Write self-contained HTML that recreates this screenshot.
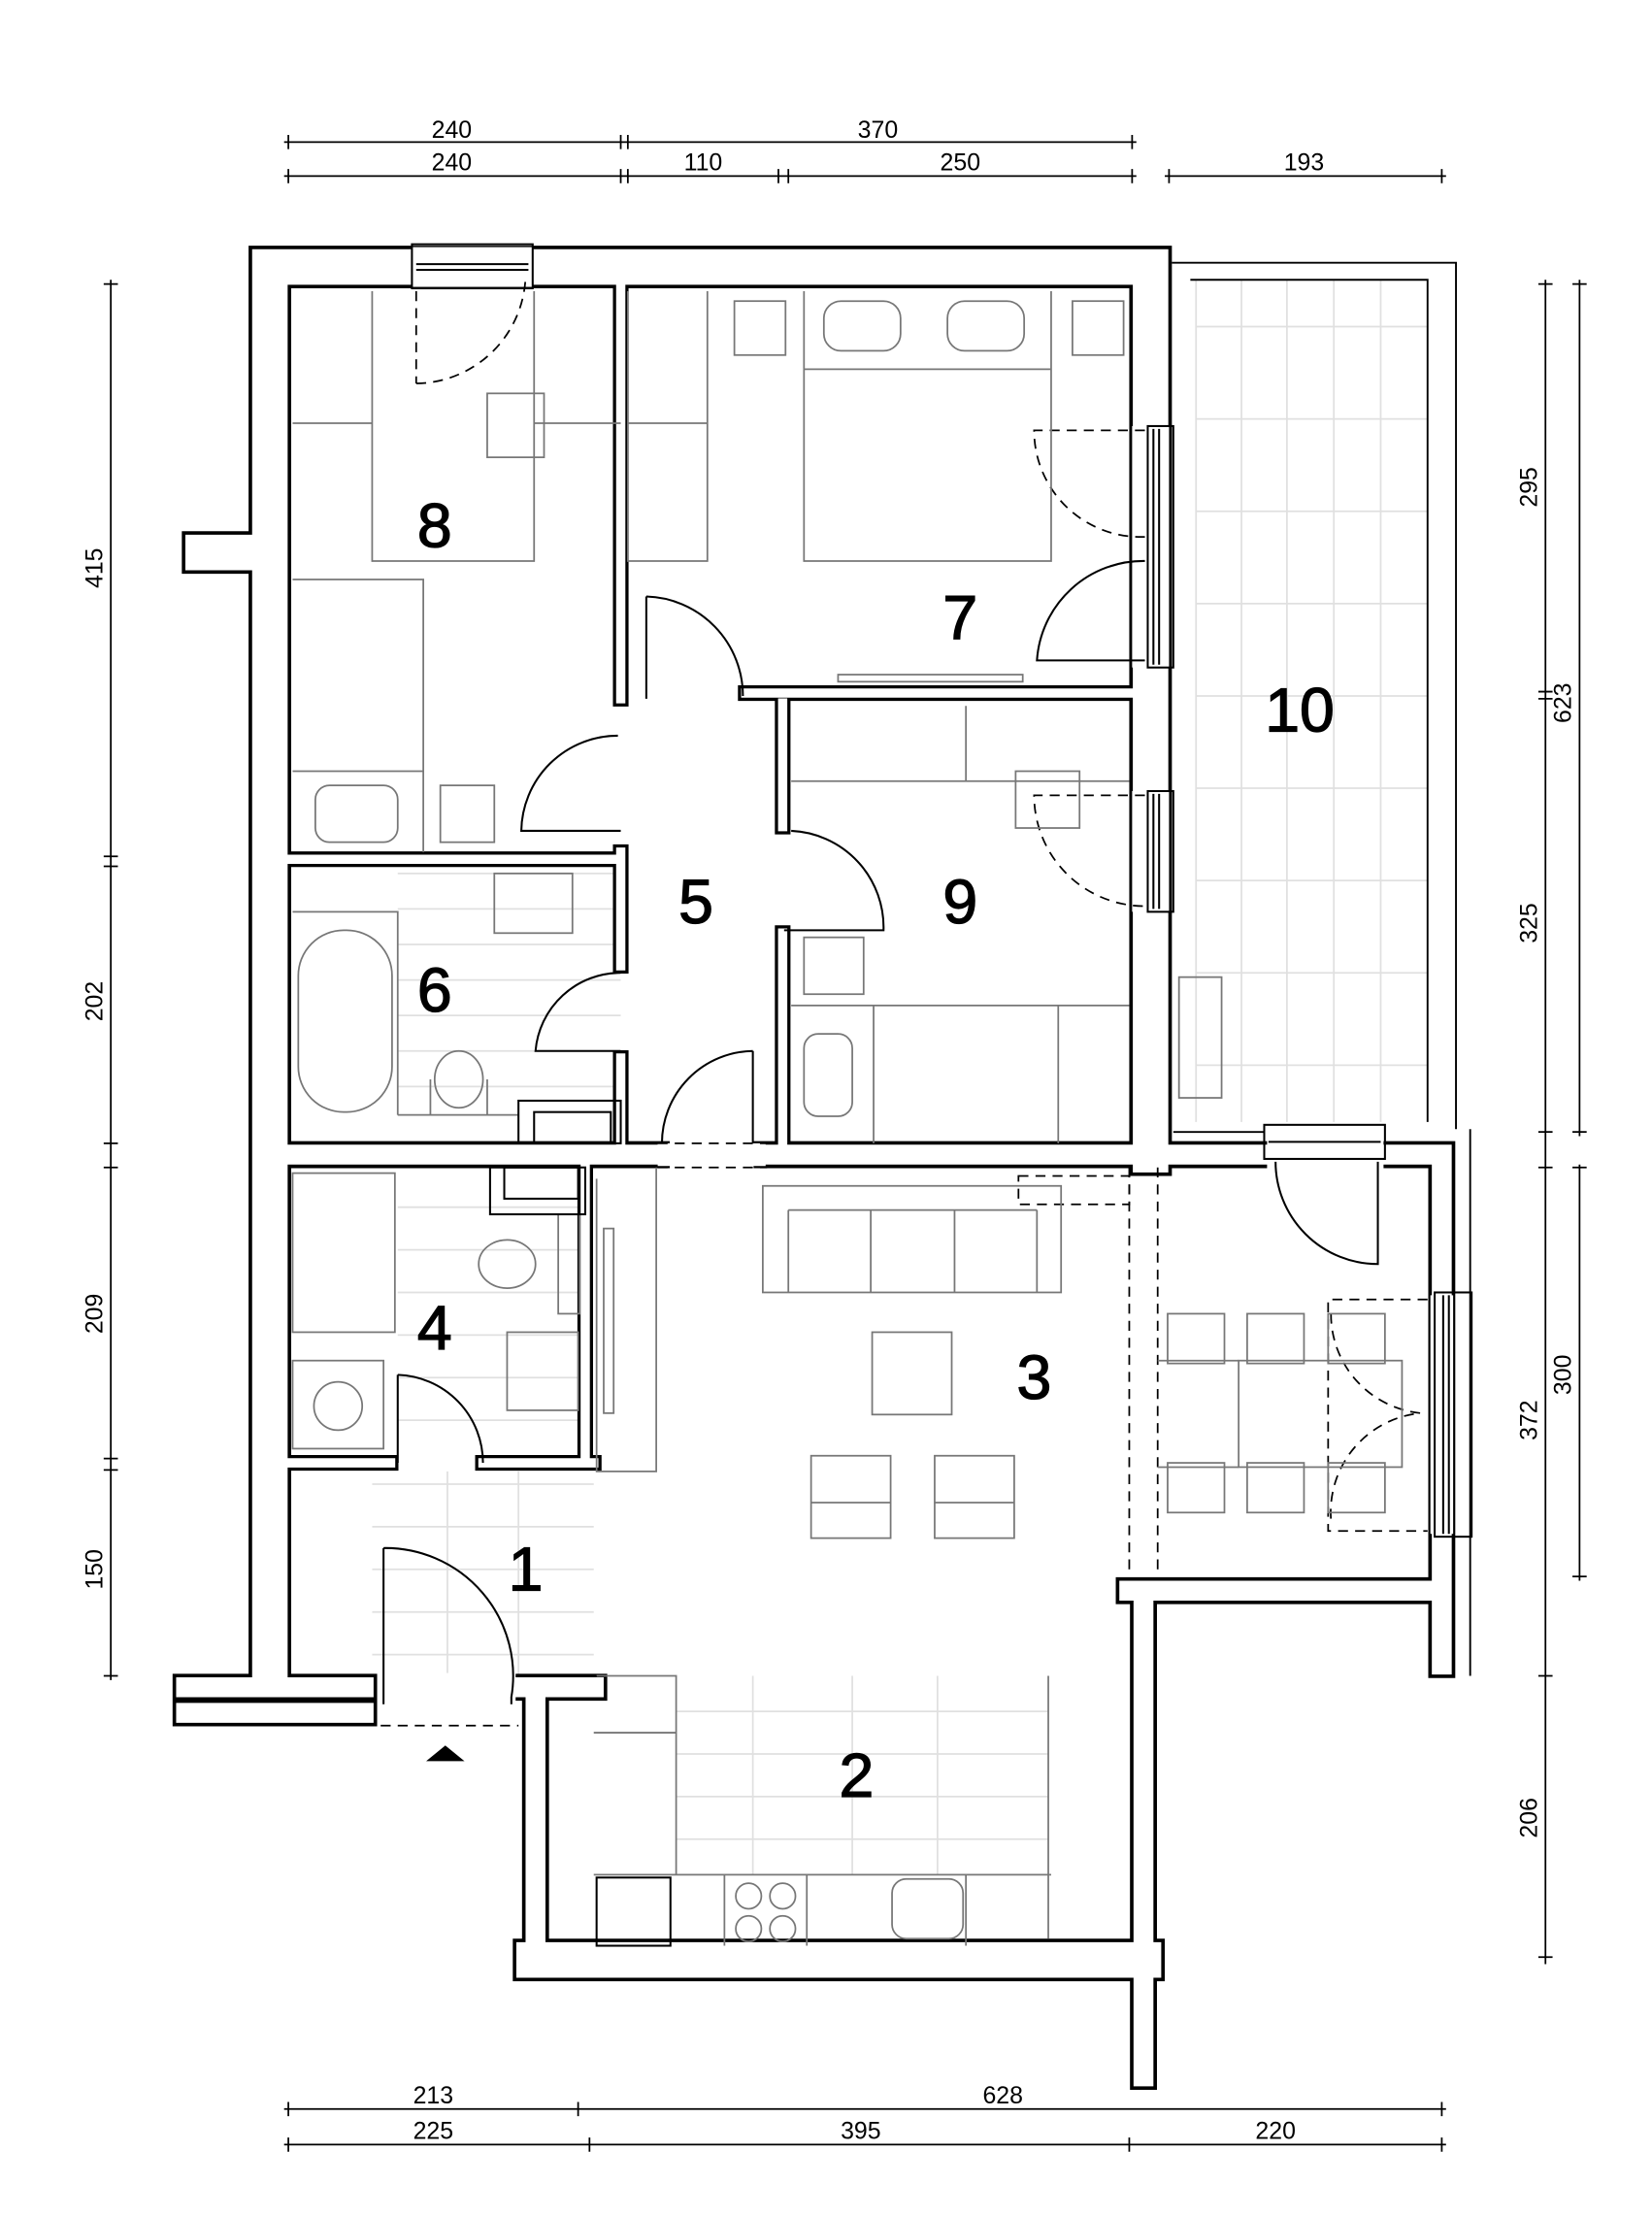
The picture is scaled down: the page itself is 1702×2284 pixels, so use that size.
<!DOCTYPE html>
<html><head><meta charset="utf-8"><style>
html,body{margin:0;padding:0;background:#fff}
svg{display:block}
text{font-family:"Liberation Sans",sans-serif}
</style></head><body>
<svg width="1702" height="2284" viewBox="0 0 1163 1561" preserveAspectRatio="none" xmlns="http://www.w3.org/2000/svg">
<defs>
<path id="T" d="M190,1180 V188 H810 V813 M143,389 H190 M376,1380 H805"/>
<path id="M" d="M190,813 H462 M540,813 H890 M975,813 H1015 V1172 M795,1120 H1015 M805,1120 V1462 M377,1188 V1380 M365,1188 H418 M131,1188 H256 M131,1206 H256"/>
<path id="S" d="M437,203 V492 M437,600 V680 M437,745 V805 M203,605 H437 M525,488 H795 M551,495 V582 M551,657 V805 M412,822 V1030 M203,1030 H275 M340,1030 H418"/>
</defs>
<g stroke="#e0e0e0" stroke-width="1.2" fill="none">
<path d="M842,197 V790 M874,197 V790 M906,197 V790 M939,197 V790 M972,197 V790 M842,230 H1005 M842,295 H1005 M842,360 H1005 M842,425 H1005 M842,490 H1005 M842,555 H1005 M842,620 H1005 M842,685 H1005 M842,750 H1005"/>
<path d="M280,615 H437 M280,640 H437 M280,665 H437 M280,690 H437 M280,715 H437 M280,740 H437 M280,765 H437"/>
<path d="M280,850 H412 M280,880 H412 M280,910 H412 M280,940 H412 M280,970 H412 M280,1000 H412"/>
<path d="M262,1045 H418 M262,1075 H418 M262,1105 H418 M262,1135 H418 M262,1165 H418 M315,1036 V1180 M365,1036 V1180"/>
<path d="M476,1205 H738 M476,1235 H738 M476,1265 H738 M476,1295 H738 M530,1180 V1320 M600,1180 V1320 M660,1180 V1320"/>
</g>
<g stroke="#000" stroke-width="1.3" fill="none">
<path d="M825,185 H1025 V795 M1035,795 V1180 M838,197 H1005 V790 M826,797 H890"/>
</g>
<g fill="none" stroke-linecap="square" stroke-linejoin="miter">
<use href="#T" stroke="#000" stroke-width="30"/>
<use href="#M" stroke="#000" stroke-width="19"/>
<use href="#S" stroke="#000" stroke-width="11"/>
<use href="#T" stroke="#fff" stroke-width="25"/>
<use href="#M" stroke="#fff" stroke-width="14"/>
<use href="#S" stroke="#fff" stroke-width="6.5"/>
</g>
<g fill="#fff" stroke="none">
<rect x="290" y="174" width="85" height="28"/>
<rect x="797" y="300" width="26" height="170"/>
<rect x="797" y="557" width="26" height="85"/>
<rect x="892" y="803" width="82" height="20"/>
<rect x="1007" y="912" width="16" height="168"/>
<rect x="463" y="805" width="76" height="16"/>
<rect x="267" y="1178" width="96" height="40"/>
</g>
<g stroke="#000" stroke-width="1.4" fill="none">
<rect x="290" y="172" width="85" height="31"/><path d="M293,186 H372 M293,190 H372"/>
<rect x="808" y="300" width="18" height="170"/><path d="M812,302 V468 M816,302 V468"/>
<rect x="808" y="557" width="18" height="85"/><path d="M812,559 V640 M816,559 V640"/>
<rect x="890" y="792" width="85" height="24"/><path d="M893,804 H972"/>
<rect x="1010" y="910" width="26" height="172"/><path d="M1016,912 V1080 M1020,912 V1080"/>
<path d="M455,420 V492 M455,420 A70,70 0 0 1 523,490"/>
<path d="M435,518 A68,68 0 0 0 367,585 H437"/>
<path d="M557,585 A68,68 0 0 1 622,655 H552"/>
<path d="M437,685 A60,60 0 0 0 377,740 H437"/>
<path d="M530,740 V805 M530,740 A65,65 0 0 0 466,805"/>
<path d="M280,968 V1030 M280,968 A62,62 0 0 1 340,1030"/>
<path d="M270,1090 V1200 M270,1090 A90,90 0 0 1 360,1195 V1200"/>
<path d="M898,818 A72,72 0 0 0 970,890 V818"/>
<path d="M806,395 A75,75 0 0 0 730,465 H806"/>
</g>
<g stroke="#000" stroke-width="1.2" fill="none" stroke-dasharray="7,5">
<path d="M293,205 V270 M293,270 A78,78 0 0 0 370,195"/>
<path d="M806,303 H728 A75,75 0 0 0 806,378"/>
<path d="M806,560 H728 A78,78 0 0 0 806,638"/>
<path d="M1005,915 H935 V1078 H1005 M937,925 A70,70 0 0 0 1000,995 A70,70 0 0 0 937,1070"/>
<path d="M463,805 H540 M463,822 H540 M268,1215 H365 M815,822 V1110 M795,822 V1110"/>
<rect x="717" y="828" width="78" height="20"/>
</g>
<polygon points="300,1240 327,1240 313.5,1229" fill="#000"/>
<g stroke="#777" stroke-width="1.2" fill="none">
<path d="M262,205 V395 H376 V205 M206,298 H262 M376,298 H437" />
<rect x="343" y="277" width="40" height="45"/>
<path d="M206,408 H298 V600 M206,543 H298"/>
<rect x="222" y="553" width="58" height="40" rx="10"/>
<rect x="310" y="553" width="38" height="40"/>
<path d="M442,205 V395 H498 V205 M442,298 H498"/>
<rect x="517" y="212" width="36" height="38"/><rect x="755" y="212" width="36" height="38"/>
<rect x="580" y="212" width="54" height="35" rx="12"/><rect x="667" y="212" width="54" height="35" rx="12"/>
<path d="M566,205 V395 H740 V205 M566,260 H740"/>
<rect x="590" y="475" width="130" height="5"/>
<path d="M557,550 H795 M680,497 V550"/>
<rect x="715" y="543" width="45" height="40"/>
<rect x="566" y="660" width="42" height="40"/>
<path d="M557,708 H795 M615,708 V805 M745,708 V805"/>
<rect x="566" y="728" width="34" height="58" rx="10"/>
<path d="M206,642 H280 V785 M280,785 H365"/>
<rect x="210" y="655" width="66" height="128" rx="32"/>
<rect x="348" y="615" width="55" height="42"/>
<ellipse cx="323" cy="760" rx="17" ry="20"/>
<path d="M303,760 V785 M343,760 V785"/>
<rect x="206" y="826" width="72" height="112"/>
<ellipse cx="357" cy="890" rx="20" ry="17"/><rect x="393" y="855" width="15" height="70"/>
<rect x="357" y="938" width="50" height="55"/>
<rect x="206" y="958" width="64" height="62"/>
<circle cx="238" cy="990" r="17"/>
<path d="M420,830 V1036 H462 V822"/><rect x="425" y="865" width="7" height="130"/>
<rect x="537" y="835" width="210" height="75"/>
<path d="M555,852 V910 M613,852 V910 M672,852 V910 M730,852 V910 M555,852 H730"/>
<rect x="614" y="938" width="56" height="58"/>
<rect x="571" y="1025" width="56" height="58"/><rect x="658" y="1025" width="56" height="58"/>
<path d="M571,1058 H627 M658,1058 H714"/>
<rect x="822" y="925" width="40" height="35"/><rect x="878" y="925" width="40" height="35"/><rect x="935" y="925" width="40" height="35"/>
<rect x="822" y="1030" width="40" height="35"/><rect x="878" y="1030" width="40" height="35"/><rect x="935" y="1030" width="40" height="35"/>
<rect x="872" y="958" width="115" height="75"/>
<path d="M815,958 H872 M815,1033 H872"/>
<rect x="830" y="688" width="30" height="85"/>
<path d="M420,1180 H476 V1320 M418,1220 H476 M738,1180 V1365 M418,1320 H740"/>
<path d="M510,1320 V1370 M568,1320 V1370 M680,1320 V1370"/>
<circle cx="527" cy="1335" r="9"/><circle cx="551" cy="1335" r="9"/><circle cx="527" cy="1358" r="9"/><circle cx="551" cy="1358" r="9"/>
<rect x="628" y="1323" width="50" height="42" rx="10"/>
</g>
<g stroke="#000" stroke-width="1.4" fill="none">
<rect x="365" y="775" width="72" height="30"/><rect x="376" y="783" width="54" height="22"/>
<rect x="345" y="822" width="67" height="33"/><rect x="355" y="822" width="52" height="22"/>
<rect x="420" y="1322" width="52" height="48"/>
</g>
<g font-size="44" text-anchor="middle" fill="#000" stroke="#000" stroke-width="0.9">
<text x="306" y="385">8</text>
<text x="676" y="450">7</text>
<text x="490" y="650">5</text>
<text x="676" y="650">9</text>
<text x="306" y="712">6</text>
<text x="915" y="515">10</text>
<text x="306" y="950">4</text>
<text x="728" y="985">3</text>
<text x="370" y="1120">1</text>
<text x="603" y="1265">2</text>
</g>
<g stroke="#000" stroke-width="1.2" fill="none">
<path d="M200,100 H800 M200,124 H800 M820,124 H1018 M200,1485 H1018 M200,1510 H1018"/>
<path d="M78,197 V1183 M1088,197 V1383 M1112,197 V800 M1112,820 V1113"/>
<path d="M203,95 V105 M437,95 V105 M442,95 V105 M797,95 V105 M203,119 V129 M437,119 V129 M442,119 V129 M548,119 V129 M555,119 V129 M797,119 V129 M823,119 V129 M1015,119 V129 M203,1480 V1490 M407,1480 V1490 M1015,1480 V1490 M203,1505 V1515 M415,1505 V1515 M795,1505 V1515 M1015,1505 V1515"/>
<path d="M73,200 H83 M73,603 H83 M73,610 H83 M73,805 H83 M73,822 H83 M73,1027 H83 M73,1035 H83 M73,1180 H83 M1083,200 H1093 M1083,487 H1093 M1083,492 H1093 M1083,797 H1093 M1083,822 H1093 M1083,1180 H1093 M1083,1378 H1093 M1107,200 H1117 M1107,797 H1117 M1107,822 H1117 M1107,1110 H1117"/>
</g>
<g font-size="17" text-anchor="middle" fill="#000">
<text x="318" y="97">240</text><text x="618" y="97">370</text>
<text x="318" y="120">240</text><text x="495" y="120">110</text><text x="676" y="120">250</text><text x="918" y="120">193</text>
<text x="305" y="1481">213</text><text x="706" y="1481">628</text>
<text x="305" y="1506">225</text><text x="606" y="1506">395</text><text x="898" y="1506">220</text>
<text transform="translate(72,400) rotate(-90)">415</text>
<text transform="translate(72,705) rotate(-90)">202</text>
<text transform="translate(72,925) rotate(-90)">209</text>
<text transform="translate(72,1105) rotate(-90)">150</text>
<text transform="translate(1082,343) rotate(-90)">295</text>
<text transform="translate(1082,650) rotate(-90)">325</text>
<text transform="translate(1082,1000) rotate(-90)">372</text>
<text transform="translate(1082,1280) rotate(-90)">206</text>
<text transform="translate(1106,495) rotate(-90)">623</text>
<text transform="translate(1106,968) rotate(-90)">300</text>
</g>
</svg>
</body></html>
